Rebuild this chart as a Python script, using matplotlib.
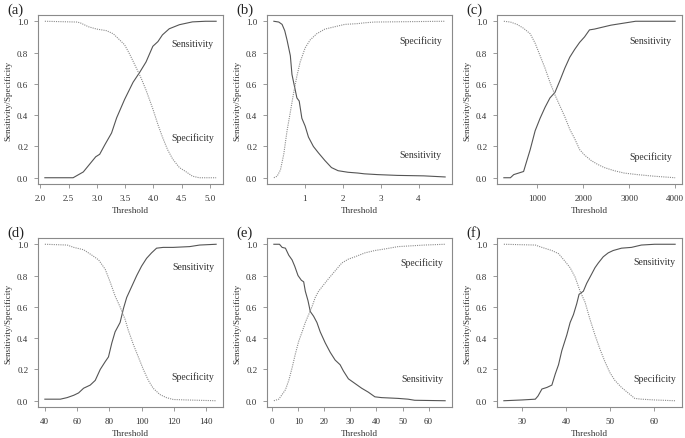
import numpy as np
import matplotlib
matplotlib.use("Agg")
import matplotlib.pyplot as plt

plt.rcParams['font.family'] = ['Liberation Serif', 'DejaVu Serif']

# (a)
a_sens_x = [2.08, 2.58, 2.76, 2.88, 2.98, 3.05, 3.14, 3.26, 3.35, 3.49, 3.64, 3.76, 3.87, 3.99, 4.08, 4.16, 4.28, 4.46, 4.69, 4.92, 5.11]
a_sens_y = [0.0, 0.0, 0.037, 0.09, 0.134, 0.15, 0.21, 0.286, 0.383, 0.50, 0.61, 0.675, 0.74, 0.84, 0.87, 0.913, 0.952, 0.978, 0.996, 1.0, 1.0]
a_spec_x = [2.08, 2.646, 2.705, 2.85, 2.997, 3.17, 3.29, 3.405, 3.49, 3.58, 3.70, 3.785, 3.87, 3.99, 4.08, 4.16, 4.25, 4.34, 4.46, 4.57, 4.69, 4.81, 5.11]
a_spec_y = [1.0, 0.995, 0.99, 0.965, 0.95, 0.94, 0.92, 0.88, 0.85, 0.79, 0.70, 0.635, 0.56, 0.44, 0.34, 0.26, 0.18, 0.12, 0.065, 0.04, 0.01, 0.0, 0.0]

# (b)
b_sens_x = [0.18, 0.31, 0.397, 0.467, 0.528, 0.615, 0.658, 0.745, 0.788, 0.849, 0.919, 1.006, 1.093, 1.223, 1.353, 1.527, 1.70, 1.875, 2.136, 2.396, 2.57, 2.918, 3.44, 4.135, 4.70]
b_sens_y = [1.0, 0.995, 0.98, 0.94, 0.88, 0.78, 0.66, 0.56, 0.51, 0.49, 0.38, 0.33, 0.26, 0.20, 0.16, 0.11, 0.065, 0.045, 0.035, 0.03, 0.025, 0.02, 0.015, 0.012, 0.005]
b_spec_x = [0.18, 0.267, 0.354, 0.441, 0.528, 0.615, 0.70, 0.788, 0.875, 1.006, 1.136, 1.31, 1.527, 1.788, 2.05, 2.396, 2.57, 2.83, 4.70]
b_spec_y = [0.0, 0.01, 0.05, 0.15, 0.30, 0.42, 0.54, 0.65, 0.74, 0.83, 0.88, 0.92, 0.95, 0.965, 0.98, 0.985, 0.99, 0.995, 1.0]

# (c)
c_sens_x = [270, 413, 485, 593, 700, 751, 844, 951, 1059, 1167, 1274, 1382, 1489, 1597, 1705, 1812, 1920, 2027, 2135, 2243, 2386, 2601, 2816, 3139, 4000]
c_sens_y = [0.0, 0.0, 0.02, 0.03, 0.04, 0.09, 0.18, 0.30, 0.38, 0.45, 0.51, 0.545, 0.62, 0.70, 0.77, 0.82, 0.865, 0.90, 0.945, 0.95, 0.96, 0.975, 0.985, 1.0, 1.0]
c_spec_x = [270, 413, 557, 700, 844, 951, 1059, 1167, 1274, 1382, 1489, 1597, 1705, 1812, 1920, 2027, 2171, 2314, 2458, 2673, 2888, 3175, 3534, 4000]
c_spec_y = [1.0, 0.995, 0.98, 0.955, 0.92, 0.86, 0.78, 0.70, 0.61, 0.53, 0.46, 0.39, 0.31, 0.25, 0.18, 0.145, 0.11, 0.085, 0.065, 0.045, 0.03, 0.02, 0.01, 0.0]

# (d)
d_sens_x = [40, 49.6, 53.8, 57.9, 60.9, 64.0, 68.1, 71.2, 74.3, 77.4, 79.4, 81.5, 83.5, 86.6, 88.7, 90.7, 93.8, 96.9, 99.9, 103.0, 106.1, 109.2, 113.3, 119.5, 129.7, 135.9, 146.1]
d_sens_y = [0.01, 0.01, 0.02, 0.035, 0.05, 0.08, 0.10, 0.13, 0.20, 0.25, 0.28, 0.37, 0.44, 0.50, 0.59, 0.66, 0.73, 0.80, 0.86, 0.91, 0.945, 0.975, 0.98, 0.98, 0.985, 0.995, 1.0]
d_spec_x = [40, 53.8, 57.9, 64.0, 69.2, 73.3, 77.4, 80.4, 83.5, 86.6, 89.7, 91.7, 94.8, 97.9, 101.0, 104.1, 107.1, 111.2, 115.3, 119.5, 127.7, 146.1]
d_spec_y = [1.0, 0.995, 0.98, 0.965, 0.93, 0.90, 0.84, 0.76, 0.67, 0.60, 0.52, 0.45, 0.36, 0.28, 0.20, 0.13, 0.08, 0.04, 0.02, 0.008, 0.005, 0.0]

# (e)
e_sens_x = [0.64, 2.80, 3.81, 5.08, 6.36, 7.63, 8.64, 9.91, 11.19, 12.08, 12.71, 13.73, 14.62, 15.89, 17.16, 18.43, 20.34, 22.24, 24.15, 26.06, 27.33, 29.24, 31.78, 34.32, 36.86, 39.40, 41.95, 48.30, 52.12, 54.66, 66.35]
e_sens_y = [1.0, 1.0, 0.98, 0.975, 0.93, 0.90, 0.86, 0.80, 0.77, 0.76, 0.70, 0.64, 0.57, 0.54, 0.50, 0.44, 0.37, 0.31, 0.26, 0.23, 0.19, 0.14, 0.11, 0.08, 0.055, 0.025, 0.02, 0.015, 0.01, 0.003, 0.0]
e_spec_x = [0.64, 2.54, 3.81, 5.08, 6.36, 7.63, 8.90, 10.17, 11.69, 12.71, 13.98, 15.25, 16.52, 17.80, 19.70, 21.61, 24.15, 26.69, 29.24, 31.78, 35.59, 39.40, 43.22, 48.30, 53.39, 58.47, 66.35]
e_spec_y = [0.0, 0.01, 0.04, 0.07, 0.13, 0.21, 0.30, 0.38, 0.45, 0.50, 0.55, 0.60, 0.66, 0.70, 0.74, 0.78, 0.83, 0.88, 0.905, 0.92, 0.945, 0.96, 0.97, 0.985, 0.99, 0.995, 1.0]

# (f)
f_sens_x = [25.86, 30, 33.01, 33.62, 34.52, 35.65, 36.78, 37.54, 38.29, 39.04, 40.17, 40.93, 41.68, 42.43, 42.96, 43.94, 44.69, 45.83, 46.58, 47.33, 48.46, 49.59, 50.72, 52.61, 54.87, 57.13, 60.14, 64.81]
f_sens_y = [0.0, 0.005, 0.01, 0.03, 0.075, 0.085, 0.10, 0.17, 0.23, 0.32, 0.42, 0.50, 0.55, 0.62, 0.68, 0.70, 0.75, 0.81, 0.85, 0.88, 0.92, 0.945, 0.96, 0.975, 0.98, 0.995, 1.0, 1.0]
f_spec_x = [25.86, 33.01, 34.52, 36.78, 38.29, 39.80, 40.93, 42.06, 43.19, 44.32, 45.45, 46.58, 47.71, 48.84, 49.97, 51.10, 52.61, 54.11, 55.62, 57.13, 60.14, 64.81]
f_spec_y = [1.0, 0.995, 0.98, 0.96, 0.94, 0.89, 0.85, 0.79, 0.70, 0.63, 0.52, 0.42, 0.33, 0.25, 0.18, 0.13, 0.085, 0.05, 0.015, 0.01, 0.005, 0.0]

panels = [
    ("(a)", a_sens_x, a_sens_y, a_spec_x, a_spec_y, [2.0, 2.5, 3.0, 3.5, 4.0, 4.5, 5.0], ["2.0", "2.5", "3.0", "3.5", "4.0", "4.5", "5.0"],
     (4.69, 0.86, "Sensitivity"), (4.69, 0.26, "Specificity")),
    ("(b)", b_sens_x, b_sens_y, b_spec_x, b_spec_y, [1, 2, 3, 4], ["1", "2", "3", "4"],
     (4.05, 0.88, "Specificity"), (4.05, 0.146, "Sensitivity")),
    ("(c)", c_sens_x, c_sens_y, c_spec_x, c_spec_y, [1000, 2000, 3000, 4000], ["1000", "2000", "3000", "4000"],
     (3462, 0.88, "Sensitivity"), (3462, 0.14, "Specificity")),
    ("(d)", d_sens_x, d_sens_y, d_spec_x, d_spec_y, [40, 60, 80, 100, 120, 140], ["40", "60", "80", "100", "120", "140"],
     (131.8, 0.86, "Sensitivity"), (131.4, 0.158, "Specificity")),
    ("(e)", e_sens_x, e_sens_y, e_spec_x, e_spec_y, [0, 10, 20, 30, 40, 50, 60], ["0", "10", "20", "30", "40", "50", "60"],
     (57.2, 0.887, "Specificity"), (57.5, 0.14, "Sensitivity")),
    ("(f)", f_sens_x, f_sens_y, f_spec_x, f_spec_y, [30, 40, 50, 60], ["30", "40", "50", "60"],
     (60.1, 0.89, "Sensitivity"), (60.1, 0.145, "Specificity")),
]

W, H = 685, 439
fig = plt.figure(figsize=(W / 100, H / 100), dpi=100)
lefts = [38, 267, 497]
tops = [16, 239]
aw, ah = 185, 169
frame_col = "#8a8a8a"

for i, (tag, sx, sy, px, py, ticks, ticklabels, lab1, lab2) in enumerate(panels):
    row, col = divmod(i, 3)
    ax = fig.add_axes([lefts[col] / W, (H - tops[row] - ah) / H, aw / W, ah / H])
    ax.plot(sx, sy, color="#555555", lw=0.8)
    ax.plot(px, py, color="#8c8c8c", lw=0.8, linestyle=(0, (1, 1)))
    lo = min(sx[0], px[0])
    hi = max(sx[-1], px[-1])
    r = hi - lo
    ax.set_xlim(lo - 0.04 * r, hi + 0.04 * r)
    ax.set_ylim(-0.04, 1.04)
    ax.set_xticks(ticks)
    ax.set_xticklabels(ticklabels)
    ax.set_yticks([0, 0.2, 0.4, 0.6, 0.8, 1.0])
    ax.set_yticklabels(["0.0", "0.2", "0.4", "0.6", "0.8", "1.0"])
    ax.tick_params(labelsize=6.5, colors="#333333", length=3, width=0.6, pad=4)
    ax.tick_params(color=frame_col)
    for s in ax.spines.values():
        s.set_color(frame_col)
        s.set_linewidth(0.8)
    ax.set_xlabel("Threshold", fontsize=6.5, color="#333333", labelpad=3)
    ax.set_ylabel("Sensitivity/Specificity", fontsize=6.5, color="#333333", labelpad=3)
    ax.text(lab1[0], lab1[1], lab1[2], fontsize=7, color="#333333", ha="center", va="center")
    ax.text(lab2[0], lab2[1], lab2[2], fontsize=7, color="#333333", ha="center", va="center")
    fig.text((lefts[col] - 31) / W, 1 - (tops[row] - 6) / H, tag, fontsize=10.5, color="#222222", ha="left", va="center")

fig.savefig("out.png", dpi=100)
